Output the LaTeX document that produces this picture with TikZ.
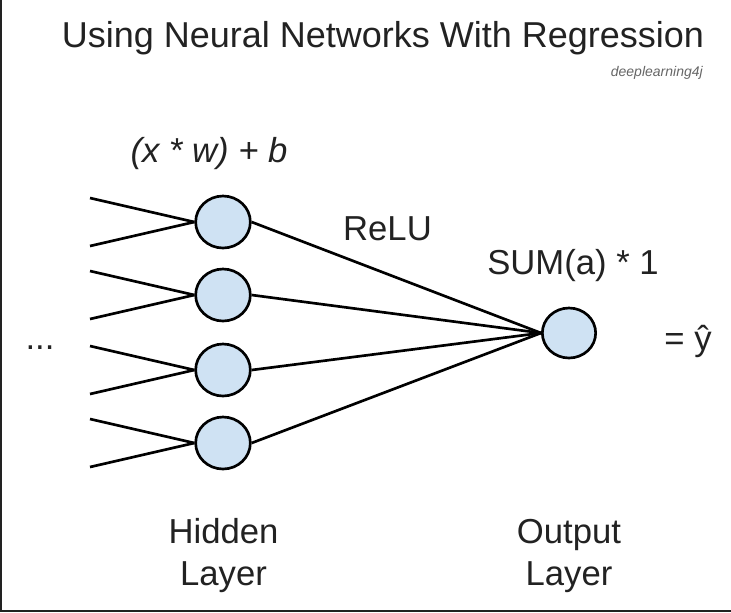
\documentclass[tikz,border=0pt]{standalone}
\usepackage{fontspec}
\setmainfont{Liberation Sans}
\usetikzlibrary{shapes.geometric}
\definecolor{nodeblue}{HTML}{CFE2F3}
\definecolor{inkgray}{HTML}{222222}
\tikzset{
	neuron/.style={ellipse, draw=black, line width=2pt, fill=nodeblue,
		minimum width=41pt, minimum height=39pt, inner sep=0pt},
	wire/.style={line width=2pt, color=black},
	lbl/.style={font=\fontsize{26}{31.5}\selectfont, text=inkgray,
		anchor=base, inner sep=0pt}
}
\begin{document}
\begin{tikzpicture}[x=0.75pt, y=-0.75pt]
	\useasboundingbox (0,0) rectangle (731,612);

	%frame
	\draw [inkgray, line width=1.5pt] (1,0) -- (1,610.5) -- (731,610.5);

	%title
	\node [lbl, font=\fontsize{27}{32}\selectfont] (title) at (383,47) {Using Neural Networks With Regression};
	\node [lbl, anchor=base east, font=\fontsize{10.5}{12}\selectfont\itshape, text=black!60] (credit) at (703,76) {deeplearning4j};

	%nodes
	\foreach \i/\y in {1/222, 2/295, 3/370, 4/443}
		\node [neuron] (h\i) at (223,\y) {};
	\node [neuron, minimum width=40pt, minimum height=37.5pt] (out) at (569,333) {};

	%inputs
	\foreach \i/\y in {1/222, 2/295, 3/370, 4/443} {
		\coordinate (a\i) at (90,\y-24);
		\coordinate (b\i) at (90,\y+24);
		\draw [wire] (a\i) -- (h\i.west);
		\draw [wire] (b\i) -- (h\i.west);
	}

	%paths
	\foreach \i in {1,...,4}
		\draw [wire] (h\i.east) -- (out.west);

	%labels
	\node [lbl, font=\fontsize{26}{31.5}\selectfont\itshape] (affine) at (209,162) {(x * w) + b};
	\node [lbl] (relu) at (387.5,240) {ReLU};
	\node [lbl] (sum) at (573,274) {SUM(a) * 1};
	\node [lbl] (yhat) at (688,350) {= ŷ};
	\node [lbl] (dots) at (40,349) {...};
	\node [lbl, align=center] (hidden) at (223.5,585) {Hidden\\Layer};
	\node [lbl, align=center] (output) at (569,585) {Output\\Layer};

\end{tikzpicture}
\end{document}
